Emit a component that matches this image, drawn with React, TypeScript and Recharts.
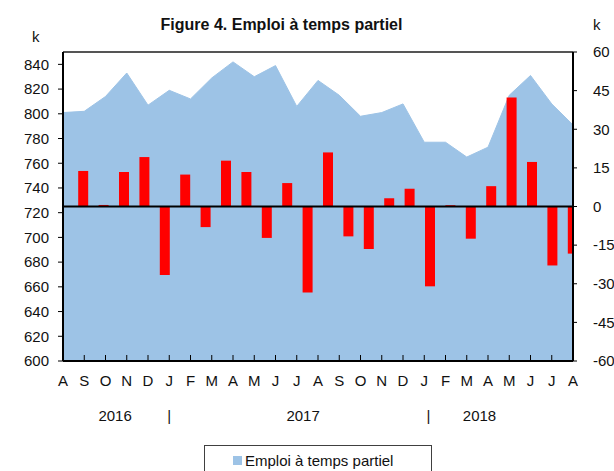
import { ComposedChart, Area, Bar, XAxis, YAxis, ReferenceLine, Legend } from "recharts";

const months = ["A", "S", "O", "N", "D", "J", "F", "M", "A", "M", "J", "J", "A", "S", "O", "N", "D", "J", "F", "M", "A", "M", "J", "J", "A"];
const partTime = [801, 802, 814, 833, 807, 819, 812, 829, 842, 830, 839, 806, 827, 815, 798, 801, 808, 777, 777, 765, 773, 815, 831, 808, 791];
// monthly change, drawn on the secondary axis (one slot more than the months)
const change = [null, 13.8, 0.6, 13.4, 19.2, -26.6, 12.4, -8.0, 17.8, 13.4, -12.2, 9.1, -33.4, 21.0, -11.6, -16.5, 3.2, 6.9, -31.0, 0.5, -12.5, 7.9, 42.3, 17.3, -22.9, -18.3];
const yearLabels = ["2016", "|", "2017", "|", "2018"];
const yearTicks = [2.45, 5, 11.3, 17.2, 19.6];
const leftTicks = [600, 620, 640, 660, 680, 700, 720, 740, 760, 780, 800, 820, 840];
const rightTicks = [-60, -45, -30, -15, 0, 15, 30, 45, 60];

const data = change.map((v, k) => ({
  m: Math.min(k, months.length - 1),
  b: k,
  emploi: k < partTime.length ? partTime[k] : null,
  variation: v,
}));

const FONT = '"Liberation Sans", Arial, sans-serif';
const AREA = "#9dc3e6";
const tickStyle = { fontSize: 15, fill: "#111", fontFamily: FONT };

function LegendBox() {
  return (
    <div
      style={{
        border: "1px solid #404040",
        height: 30,
        display: "flex",
        alignItems: "center",
        paddingLeft: 28,
        fontFamily: FONT,
        fontSize: 15,
        color: "#111",
        boxSizing: "border-box",
      }}
    >
      <span style={{ width: 9, height: 9, background: AREA, display: "inline-block", marginRight: 3 }} />
      Emploi à temps partiel
    </div>
  );
}

export default function App() {
  return (
    <div style={{ position: "absolute", left: 0, top: 0, width: 614, height: 471, fontFamily: FONT, background: "#fff" }}>
      <div style={{ position: "absolute", left: 0, top: 16, width: 563, textAlign: "center", fontSize: 16, fontWeight: "bold", color: "#111" }}>
        Figure 4. Emploi à temps partiel
      </div>
      <div style={{ position: "absolute", left: 32, top: 28, fontSize: 15, color: "#111" }}>k</div>
      <div style={{ position: "absolute", left: 593, top: 16, fontSize: 15, color: "#111" }}>k</div>
      <ComposedChart width={614} height={471} data={data} margin={{ top: 52, right: 0, bottom: 15, left: 0 }}>
        <XAxis
          xAxisId="a_month"
          dataKey="m"
          type="number"
          domain={[0, 24]}
          ticks={months.map((_, i) => i)}
          interval={0}
          tickFormatter={(v) => months[v]}
          tick={tickStyle}
          stroke="#000"
          axisLine={{ strokeWidth: 2 }}
          tickSize={-6}
          tickMargin={20}
          height={30}
        />
        <XAxis
          xAxisId="b_year"
          dataKey="m"
          type="number"
          domain={[0, 24]}
          ticks={yearTicks}
          interval={0}
          tickFormatter={(_v, i) => yearLabels[i]}
          tick={tickStyle}
          axisLine={false}
          tickLine={false}
          tickSize={0}
          tickMargin={19}
          height={35}
        />
        <XAxis xAxisId="c_bar" dataKey="b" type="number" domain={[0, 25]} hide height={0} allowDataOverflow />
        <YAxis
          yAxisId="left"
          domain={[600, 850]}
          ticks={leftTicks}
          interval={0}
          tick={tickStyle}
          stroke="#000"
          axisLine={{ strokeWidth: 2 }}
          tickSize={5}
          tickMargin={9}
          width={63}
        />
        <YAxis
          yAxisId="right"
          orientation="right"
          domain={[-60, 60]}
          ticks={rightTicks}
          interval={0}
          tick={{ ...tickStyle, textAnchor: "start" }}
          stroke="#000"
          axisLine={{ strokeWidth: 2 }}
          tickSize={4}
          tickMargin={16}
          width={41}
        />
        <Area
          xAxisId="a_month"
          yAxisId="left"
          dataKey="emploi"
          type="linear"
          fill={AREA}
          fillOpacity={1}
          stroke={AREA}
          isAnimationActive={false}
          legendType="square"
        />
        <Bar xAxisId="c_bar" yAxisId="right" dataKey="variation" fill="#ff0000" barSize={10} isAnimationActive={false} />
        <ReferenceLine xAxisId="a_month" yAxisId="right" y={0} stroke="#000" strokeWidth={2} />
        <ReferenceLine xAxisId="a_month" yAxisId="left" y={850} stroke="#555" strokeWidth={2} />
        <Legend content={() => <LegendBox />} wrapperStyle={{ top: 445, left: 204, width: 228 }} />
      </ComposedChart>
    </div>
  );
}
